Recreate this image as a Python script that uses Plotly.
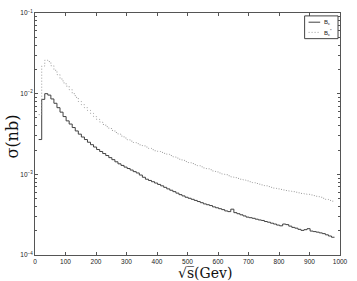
import plotly.graph_objects as go

# bin left edges (GeV), 10 GeV wide bins
bin_edges = list(range(12, 992, 10))  # 12 ... 982

sigma_Bc = [
    2.7e-3, 8.5e-3, 1.0e-2, 9.6e-3, 8.6e-3, 7.6e-3, 6.7e-3, 5.9e-3, 5.2e-3, 4.6e-3,
    4.2e-3, 3.8e-3, 3.45e-3, 3.15e-3, 2.9e-3, 2.7e-3, 2.5e-3, 2.33e-3, 2.18e-3, 2.03e-3,
    1.92e-3, 1.81e-3, 1.71e-3, 1.61e-3, 1.52e-3, 1.43e-3, 1.35e-3, 1.29e-3, 1.23e-3, 1.18e-3,
    1.13e-3, 1.08e-3, 1.04e-3, 9.8e-4, 9.2e-4, 8.7e-4, 8.4e-4, 8.1e-4, 7.8e-4, 7.5e-4,
    7.2e-4, 6.9e-4, 6.6e-4, 6.35e-4, 6.1e-4, 5.85e-4, 5.6e-4, 5.4e-4, 5.2e-4, 5.05e-4,
    4.9e-4, 4.75e-4, 4.6e-4, 4.45e-4, 4.3e-4, 4.2e-4, 4.1e-4, 3.95e-4, 3.85e-4, 3.75e-4,
    3.65e-4, 3.52e-4, 3.45e-4, 3.7e-4, 3.35e-4, 3.25e-4, 3.15e-4, 3.05e-4, 2.95e-4, 2.9e-4,
    2.85e-4, 2.78e-4, 2.72e-4, 2.68e-4, 2.6e-4, 2.55e-4, 2.48e-4, 2.42e-4, 2.35e-4, 2.3e-4,
    2.42e-4, 2.38e-4, 2.28e-4, 2.2e-4, 2.15e-4, 2.08e-4, 2.02e-4, 2.06e-4, 2.12e-4, 1.98e-4,
    1.95e-4, 1.92e-4, 1.88e-4, 1.84e-4, 1.78e-4, 1.72e-4, 1.66e-4,
]

sigma_Bcstar = [
    5.5e-3, 2.2e-2, 2.6e-2, 2.5e-2, 2.22e-2, 1.95e-2, 1.72e-2, 1.52e-2, 1.36e-2, 1.24e-2,
    1.12e-2, 1.0e-2, 9.0e-3, 8.0e-3, 7.3e-3, 6.7e-3, 6.2e-3, 5.7e-3, 5.2e-3, 4.8e-3,
    4.45e-3, 4.15e-3, 3.9e-3, 3.7e-3, 3.5e-3, 3.3e-3, 3.15e-3, 2.98e-3, 2.82e-3, 2.68e-3,
    2.58e-3, 2.48e-3, 2.4e-3, 2.32e-3, 2.25e-3, 2.18e-3, 2.1e-3, 2.02e-3, 1.96e-3, 1.92e-3,
    1.87e-3, 1.82e-3, 1.77e-3, 1.71e-3, 1.65e-3, 1.59e-3, 1.54e-3, 1.49e-3, 1.44e-3, 1.4e-3,
    1.36e-3, 1.32e-3, 1.28e-3, 1.24e-3, 1.2e-3, 1.17e-3, 1.14e-3, 1.1e-3, 1.07e-3, 1.04e-3,
    1.01e-3, 9.9e-4, 9.6e-4, 9.3e-4, 9.1e-4, 8.9e-4, 8.7e-4, 8.5e-4, 8.3e-4, 8.1e-4,
    7.9e-4, 7.7e-4, 7.55e-4, 7.4e-4, 7.2e-4, 7.05e-4, 6.9e-4, 6.75e-4, 6.6e-4, 6.5e-4,
    6.4e-4, 6.3e-4, 6.2e-4, 6.1e-4, 6.0e-4, 5.9e-4, 5.8e-4, 5.7e-4, 5.65e-4, 5.55e-4,
    5.45e-4, 5.35e-4, 5.2e-4, 5.05e-4, 4.9e-4, 4.75e-4, 4.65e-4,
]

series_names = ["B<sub>c</sub>", "B<sub>c</sub><sup>*</sup>"]
x_ticks = [0, 100, 200, 300, 400, 500, 600, 700, 800, 900, 1000]
y_ticks = [1e-4, 1e-3, 1e-2, 1e-1]
y_ticktext = ["10<sup>−4</sup>", "10<sup>−3</sup>", "10<sup>−2</sup>", "10<sup>−1</sup>"]

SOLID = "#404040"
DOT = "#9a9a9a"


def steps(vals):
    n = len(vals)
    xs = bin_edges[: n + 1]
    ys = list(vals) + [vals[-1]]
    return xs, ys


fig = go.Figure()
xs, ys = steps(sigma_Bc)
fig.add_trace(go.Scatter(x=xs, y=ys, mode="lines", line_shape="hv",
                         line=dict(color=SOLID, width=1), name=series_names[0],
                         showlegend=False))
xs, ys = steps(sigma_Bcstar)
fig.add_trace(go.Scatter(x=xs, y=ys, mode="lines", line_shape="hv",
                         line=dict(color=DOT, width=1, dash="1px,2px"),
                         name=series_names[1], showlegend=False))

minor_vals = [m * 10 ** e for e in (-4, -3, -2) for m in range(2, 10)]

axis_common = dict(showgrid=False, zeroline=False, showline=True, linecolor="#555",
                   linewidth=1, mirror="ticks", ticks="inside", ticklen=3,
                   tickcolor="#555",
                   tickfont=dict(family="Liberation Sans", size=6.5, color="#222"))

fig.update_xaxes(range=[0, 1000], tickvals=x_ticks, ticktext=[str(v) for v in x_ticks],
                 **axis_common)
fig.update_yaxes(type="log", range=[-4, -1], tickvals=y_ticks, ticktext=y_ticktext,
                 minor=dict(tickvals=minor_vals, ticks="inside", ticklen=2, tickcolor="#555"),
                 **axis_common)

# axis titles
annotations = [
    dict(text="√s̅(Gev)", xref="paper", yref="paper", x=0.558, y=-0.074,
         xanchor="center", yanchor="middle", showarrow=False,
         font=dict(family="DejaVu Serif", size=14, color="#111")),
    dict(text="σ(nb)", xref="paper", yref="paper", x=-0.075, y=0.49,
         xanchor="center", yanchor="middle", showarrow=False, textangle=-90,
         font=dict(family="DejaVu Serif", size=16, color="#111")),
]

# legend box (drawn in paper coordinates)
lx0, lx1, ly0, ly1 = 0.884, 0.9935, 0.894, 0.988
shapes = [
    dict(type="rect", xref="paper", yref="paper", x0=lx0, x1=lx1, y0=ly0, y1=ly1,
         line=dict(color="#444", width=1), fillcolor="white", layer="above"),
    dict(type="line", xref="paper", yref="paper", x0=0.897, x1=0.935, y0=0.962, y1=0.962,
         line=dict(color=SOLID, width=1), layer="above"),
    dict(type="line", xref="paper", yref="paper", x0=0.897, x1=0.935, y0=0.92, y1=0.92,
         line=dict(color=DOT, width=1, dash="1px,2px"), layer="above"),
]
for name, yy in zip(series_names, [0.962, 0.92]):
    annotations.append(dict(text=name, xref="paper", yref="paper", x=0.941, y=yy,
                            xanchor="left", yanchor="middle", showarrow=False,
                            font=dict(family="Liberation Sans", size=6, color="#222")))

fig.update_layout(
    width=357, height=281,
    margin=dict(l=35, r=12, t=9, b=26),
    paper_bgcolor="white", plot_bgcolor="white",
    showlegend=False,
    annotations=annotations, shapes=shapes,
)

fig.write_html("out.html", config={"displayModeBar": False},
               post_script="document.body.style.margin='0px';document.body.style.overflow='hidden';")
